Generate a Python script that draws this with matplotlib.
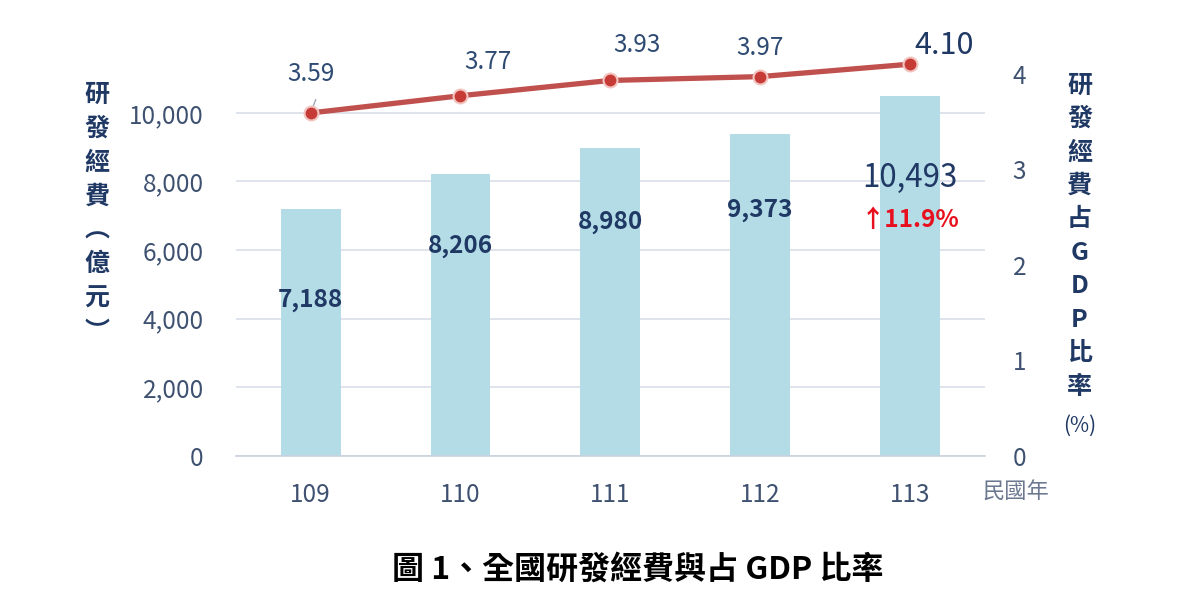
import matplotlib.pyplot as plt
import numpy as np

plt.rcParams['font.family'] = ['Noto Sans CJK TC', 'DejaVu Sans']

years = ['109', '110', '111', '112', '113']
rd_spend = [7188, 8206, 8980, 9373, 10493]      # 億元
gdp_ratio = [3.59, 3.77, 3.93, 3.97, 4.10]      # %
growth_label = '↑11.9%'

# label placement (data units of left axis / pixel offsets)
bar_label_y = [4550, 6120, 6820, 7170, 8100]
ratio_offsets = [(0, 39), (27, 34), (27, 35), (0, 29), (34, 19)]

navy = '#1F3864'
tick_col = '#3E5170'
bar_col = '#B4DCE6'
line_col = '#C0504D'
grid_col = '#D9DEE8'

fig = plt.figure(figsize=(11.85, 5.98), dpi=100)
ax = fig.add_axes([0.199, 0.2375, 0.632, 0.6885])
x = np.arange(len(years))

ax.bar(x, rd_spend, width=0.4, color=bar_col, zorder=2)
ax.set_xlim(-0.5, 4.5)
ax.set_ylim(0, 12000)
ax.set_yticks(range(0, 10001, 2000))
ax.set_yticklabels([f'{v:,}' for v in range(0, 10001, 2000)])
ax.grid(axis='y', color=grid_col, lw=1.2, zorder=0)
ax.set_axisbelow(True)
for s in ['top', 'right', 'left']:
    ax.spines[s].set_visible(False)
ax.spines['bottom'].set_color('#C9D1DE')
ax.spines['bottom'].set_linewidth(1.2)
ax.set_xticks(x)
ax.set_xticklabels(years)
ax.tick_params(axis='y', length=0, pad=23, labelsize=17.5, labelcolor=tick_col)
ax.tick_params(axis='x', length=0, pad=19, labelsize=17.5, labelcolor=tick_col)

for i, v in enumerate(rd_spend):
    if i == len(rd_spend) - 1:
        ax.text(x[i], bar_label_y[i], f'{v:,}', ha='center', va='center',
                fontsize=22.5, color=navy, zorder=5)
    else:
        ax.text(x[i], bar_label_y[i], f'{v:,}', ha='center', va='center',
                fontsize=17.5, fontweight='bold', color=navy, zorder=5)
ax.text(x[-1], 6880, growth_label, ha='center', va='center',
        fontsize=17.5, fontweight='bold', color='#E8101E', zorder=5)

ax2 = ax.twinx()
ax2.set_ylim(0, 12000 * 4 / 11140)
ax2.set_yticks([0, 1, 2, 3, 4])
for s in ['top', 'right', 'left', 'bottom']:
    ax2.spines[s].set_visible(False)
ax2.tick_params(axis='y', length=0, pad=20, labelsize=17.5, labelcolor=tick_col)
ax2.plot(x, gdp_ratio, color=line_col, lw=3.8, marker='o', markersize=10,
         markerfacecolor='#C73B36', markeredgecolor='#F2C4C0',
         markeredgewidth=1.5, zorder=4)

for i, v in enumerate(gdp_ratio):
    dx, dy = ratio_offsets[i]
    big = i == len(gdp_ratio) - 1
    ax2.annotate(f'{v:.2f}', (x[i], v), xytext=(dx, dy),
                 textcoords='offset pixels', ha='center', va='center',
                 fontsize=22 if big else 17.5, color=navy if big else '#2F4B73')
# small leader line for first label
ax2.annotate('', (x[0], gdp_ratio[0]), xytext=(6, 16),
             textcoords='offset pixels',
             arrowprops=dict(arrowstyle='-', color='#A0A8B8', lw=1))

fig.text(0.082, 0.643, '研\n發\n經\n費\n︵\n億\n元\n︶', ha='center', va='center',
         fontsize=18, fontweight='bold', color=navy, linespacing=1.52)
fig.text(0.911, 0.605, '研\n發\n經\n費\n占\nG\nD\nP\n比\n率', ha='center',
         va='center', fontsize=18, fontweight='bold', color=navy,
         linespacing=1.5)
fig.text(0.911, 0.288, '(%)', ha='center', va='center', fontsize=15,
         color=navy)
fig.text(0.857, 0.177, '民國年', ha='center', va='center', fontsize=16,
         color='#6B7890')

fig.text(0.538, 0.047, '圖 1、全國研發經費與占 GDP 比率', ha='center', va='center',
         fontsize=23, fontweight='bold', color='black',
         family=['Noto Sans CJK TC', 'DejaVu Serif'])

fig.savefig('out.png', dpi=100, facecolor='white')
